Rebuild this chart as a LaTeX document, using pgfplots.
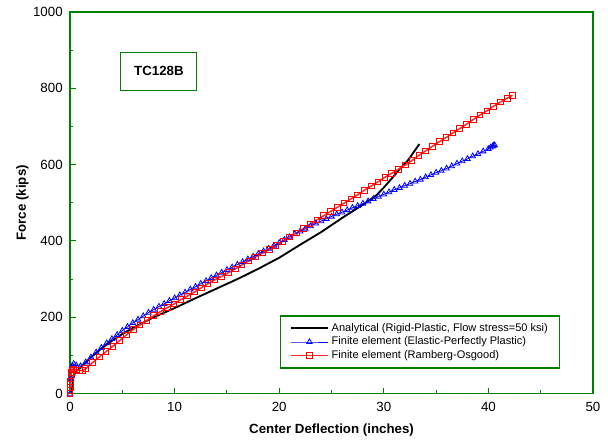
\documentclass[border=0pt]{standalone}
\usepackage{fontspec}
\setmainfont{Liberation Sans}
\usepackage{pgfplots}
\pgfplotsset{compat=1.18}
\definecolor{axgreen}{RGB}{0,128,0}
\begin{document}
\begin{tikzpicture}
\begin{axis}[
  scale only axis,
  width=392bp, height=286bp,
  xmin=0, xmax=50, ymin=0, ymax=1000,
  xtick={0,10,...,50}, ytick={0,200,...,1000},
  minor xtick={5,15,...,45}, minor ytick={100,300,...,900},
  xtick pos=left, ytick pos=left,
  tick align=inside,
  major tick length=4.5bp, minor tick length=2.5bp,
  axis line style={axgreen, line width=1.2pt},
  every tick/.style={axgreen, line width=0.8pt},
  tick label style={font=\fontsize{10}{12}\selectfont},
  xticklabel style={yshift=-3bp},
  yticklabel style={xshift=-2bp},
  /pgf/number format/assume math mode=true,
  /pgf/number format/set thousands separator={},
  xlabel={\textbf{Center Deflection (inches)}},
  ylabel={\textbf{Force (kips)}},
  label style={font=\fontsize{10}{12}\selectfont},
  xlabel style={yshift=-2.5bp},
  ylabel style={yshift=-3.5bp},
  legend cell align=left,
  legend style={at={(rel axis cs:0.4015,0.2047)}, anchor=north west,
    draw=axgreen, line width=0.8pt, font=\fontsize{8.3}{9.5}\selectfont,
    row sep=-1.2pt, inner xsep=7pt, inner ysep=3.5pt},
  legend image code/.code={
    \draw[#1, mark repeat=2, mark phase=2] plot coordinates {(0bp,0bp) (14bp,0bp) (28bp,0bp)};},
]
\addplot[black, line width=1.4pt, no marks] coordinates {
  (0.15,0) (0.3,40) (0.5,56) (1,68) (2,95) (3,118) (4,138) (5,156) (6,172)
  (8,200) (10,224) (12,250) (14,275) (16,300) (18,327) (20,356) (22,390)
  (24,423) (26,460) (28,495) (29.3,520) (30,540) (30.9,568) (31.5,588)
  (32.3,611) (33.4,654)
};
\addlegendentry{Analytical (Rigid-Plastic, Flow stress=50 ksi)}
\addplot[blue, line width=0.6pt, mark=triangle, mark size=2.4bp, mark options={solid, fill=white, line width=0.6pt}] coordinates {
  (0,0) (0.1,40) (0.2,72) (0.35,78) (0.6,74) (1.0,72) (1.5,82) (2,95) (2.5,108)
  (3,120) (3.5,132) (4,143) (4.5,154) (5,165) (5.5,175) (6,185) (6.5,194)
  (7,203) (7.5,212) (8,220) (8.5,228) (9,235) (9.5,243) (10,250) (10.5,258)
  (11,265) (11.5,273) (12,280) (12.5,288) (13,295) (13.5,303) (14,310)
  (14.5,317) (15,324) (15.5,331) (16,338) (16.5,345) (17,352) (17.5,359)
  (18,366) (18.5,373) (19,380) (19.5,388) (20,395) (20.5,403) (21,410)
  (21.5,418) (22,425) (22.5,432) (23,439) (23.5,446) (24,452) (24.5,458)
  (25,464) (25.5,470) (26,475) (26.5,481) (27,487) (27.5,492) (28,498)
  (28.5,504) (29,510) (29.5,516) (30,522) (30.5,528) (31,534) (31.5,539)
  (32,545) (32.5,550) (33,556) (33.5,561) (34,567) (34.5,573) (35,579)
  (35.5,584) (36,590) (36.5,596) (37,603) (37.5,609) (38,615) (38.5,622)
  (39,628) (39.5,635) (40,641) (40.2,645) (40.4,648) (40.5,650) (40.6,651)
};
\addlegendentry{Finite element (Elastic-Perfectly Plastic)}
\addplot[red!85!white, line width=1.1pt, mark=square, mark size=2.1bp, mark options={solid, draw=red, fill=white, line width=0.7pt}] coordinates {
  (0,0) (0,8) (0.02,16) (0.04,24) (0.06,32) (0.08,40) (0.1,48) (0.15,56)
  (0.2,62) (0.35,64) (0.6,62) (0.9,60) (1.2,61) (1.5,65) (2.15,81) (2.8,96)
  (3.45,110) (4.1,124) (4.75,139) (5.4,154) (6.05,168) (6.7,180) (7.35,192)
  (8.0,204) (8.65,215) (9.3,225) (9.95,235) (10.6,246) (11.25,256) (11.9,266)
  (12.55,277) (13.2,288) (13.85,298) (14.5,307) (15.15,317) (15.8,327)
  (16.45,337) (17.1,348) (17.75,358) (18.4,368) (19.05,378) (19.7,388)
  (20.35,399) (21.0,410) (21.65,421) (22.3,432) (22.95,444) (23.6,455)
  (24.25,466) (24.9,477) (25.55,488) (26.2,499) (26.85,510) (27.5,521)
  (28.15,533) (28.8,544) (29.45,555) (30.1,567) (30.75,577) (31.4,588)
  (32.05,599) (32.7,611) (33.35,624) (34.0,636) (34.65,648) (35.3,660)
  (35.95,671) (36.6,683) (37.25,694) (37.9,706) (38.55,718) (39.2,730)
  (39.85,741) (40.5,753) (41.15,764) (41.8,774) (42.3,782)
};
\addlegendentry{Finite element (Ramberg-Osgood)}
\node[draw=axgreen, line width=0.8pt, minimum width=57bp, minimum height=28.5bp,
  font=\bfseries\fontsize{10}{12}\selectfont] at (axis cs:8.5,845) {TC128B};
\end{axis}
\path (current axis.south west) ++(-52.5bp,-33.75bp) coordinate (bbA);
\path (current axis.north east) ++(11.25bp,9bp) coordinate (bbB);
\useasboundingbox (bbA) rectangle (bbB);
\end{tikzpicture}
\end{document}
